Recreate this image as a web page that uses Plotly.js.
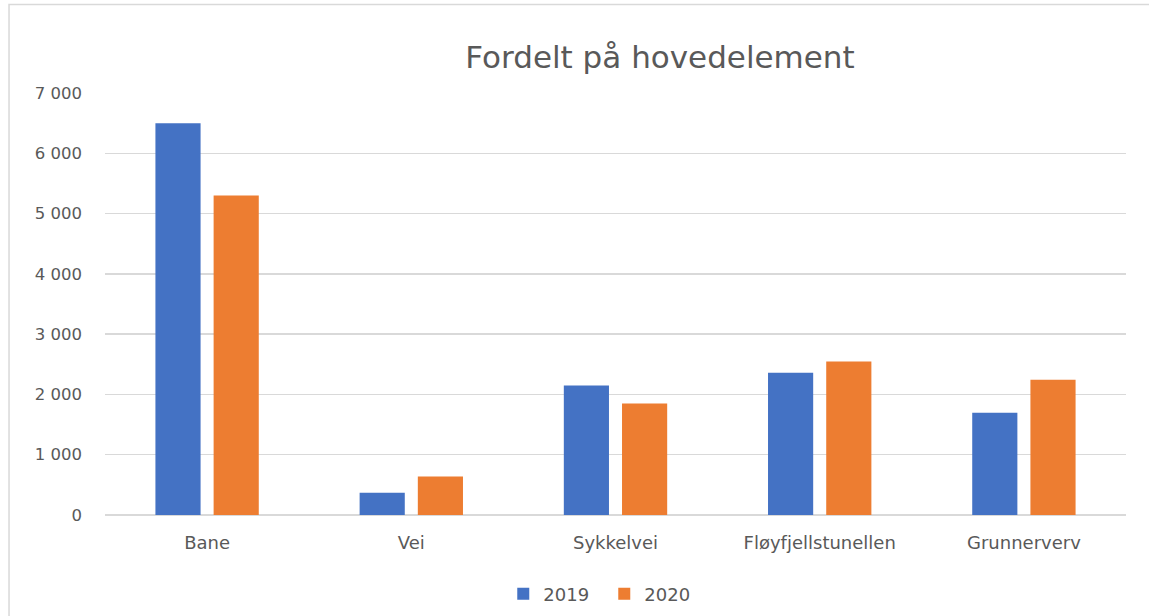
<!DOCTYPE html>
<html>
<head>
<meta charset="utf-8">
<script src="https://cdn.plot.ly/plotly-3.0.1.min.js"></script>
<style>html,body{margin:0;padding:0;background:#fff;}#chart{width:1149px;height:616px;}</style>
</head>
<body>
<div id="chart"></div>
<script>
var categories = ["Bane", "Vei", "Sykkelvei", "Fløyfjellstunellen", "Grunnerverv"];
var values2019 = [6500, 370, 2150, 2360, 1695];
var values2020 = [5300, 640, 1850, 2545, 2245];
var seriesNames = ["2019", "2020"];
var yTicks = [0, 1000, 2000, 3000, 4000, 5000, 6000, 7000];
var yTickLabels = ["0", "1 000", "2 000", "3 000", "4 000", "5 000", "6 000", "7 000"];

var fontFam = "DejaVu Sans, sans-serif";
var grey = "#595959";

var traces = [
  {type: "bar", name: seriesNames[0], x: categories, y: values2019, marker: {color: "#4472C4"}},
  {type: "bar", name: seriesNames[1], x: categories, y: values2020, marker: {color: "#ED7D31"}}
];

var layout = {
  width: 1149, height: 616,
  margin: {l: 105, r: 23, t: 93, b: 101, pad: 0, autoexpand: false},
  paper_bgcolor: "#ffffff", plot_bgcolor: "#ffffff",
  font: {family: fontFam, color: grey, size: 16},
  title: {text: "Fordelt på hovedelement", font: {family: fontFam, size: 31, color: grey},
          x: 0.5436, xanchor: "center", xref: "paper", yref: "container", y: 0.907, yanchor: "middle"},
  barmode: "group", bargap: 0.43, bargroupgap: 0.224,
  xaxis: {showgrid: false, showline: false, zeroline: false, ticks: "", tickfont: {size: 18, color: grey}, ticklabelstandoff: 15},
  yaxis: {range: [0, 7000], tickvals: yTicks, ticktext: yTickLabels, showgrid: true, gridcolor: "#d9d9d9", gridwidth: 1.5,
          zeroline: true, zerolinecolor: "#d9d9d9", zerolinewidth: 1.5, showline: false, ticks: "",
          tickfont: {size: 16.5, color: grey}, ticklabelstandoff: 22},
  showlegend: true,
  legend: {orientation: "h", x: 0.489, xanchor: "center", yref: "container", y: 0.0357, yanchor: "middle",
           font: {size: 18, color: grey}, itemwidth: 30, entrywidth: 56, entrywidthmode: "pixels", traceorder: "normal"},
  shapes: [{type: "rect", xref: "paper", yref: "paper", x0: -0.094, x1: 1.03, y0: -0.3, y1: 1.21,
            line: {color: "#d9d9d9", width: 1.5}, fillcolor: "rgba(0,0,0,0)", layer: "below"}]
};

Plotly.newPlot("chart", traces, layout, {displayModeBar: false, staticPlot: true});
</script>
</body>
</html>
